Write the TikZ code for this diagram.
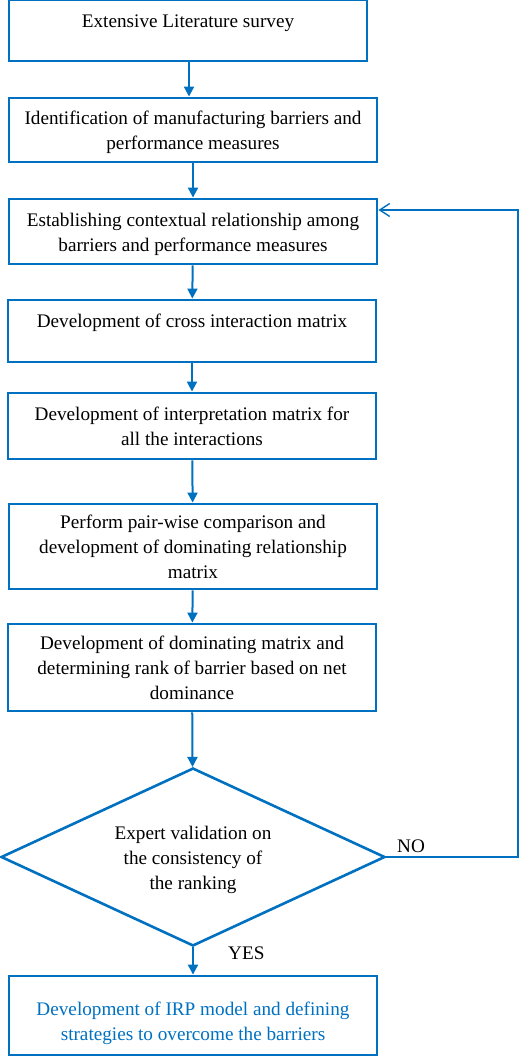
\documentclass[tikz,border=0pt]{standalone}
\usepackage{fontspec}
\setmainfont{Liberation Serif}
\usetikzlibrary{shapes.geometric,arrows.meta}
\definecolor{fblue}{HTML}{0070C0}
\newcommand\tdn[2]{\raisebox{0pt}[\dimexpr\height+#1\relax][\depth]{\begin{tabular}{@{}c@{}}#2\end{tabular}}}
\newcommand\tup[2]{\raisebox{0pt}[\height][\dimexpr\depth+#1\relax]{\begin{tabular}{@{}c@{}}#2\end{tabular}}}
\begin{document}
\begin{tikzpicture}[x=1pt,y=-1pt,
  box/.style={draw=fblue,line width=2.9pt,rectangle,minimum width=368pt,inner sep=0pt,align=center,
    font=\fontsize{19.2}{25}\selectfont},
  dec/.style={draw=fblue,line width=2.6pt,diamond,minimum width=384pt,minimum height=178pt,inner sep=0pt,
    shape aspect=2.157,align=center,font=\fontsize{19.2}{25}\selectfont},
  conn/.style={draw=fblue,line width=2pt,-{Triangle[length=10pt,width=10pt]}},
  back/.style={draw=fblue,line width=1.4pt,-{Straight Barb[length=10pt,width=13pt]}},
  lbl/.style={font=\fontsize{19.2}{25}\selectfont,inner sep=0pt}]
\useasboundingbox (0,0) rectangle (520,1057);
\node[box,minimum width=358pt,minimum height=61pt] (b1) at (188,30.5) {\tup{16pt}{Extensive Literature survey}};
\node[box,minimum height=64pt] (b2) at (193,130) {\tdn{4pt}{Identification of manufacturing barriers and\\performance measures}};
\node[box,minimum height=65pt] (b3) at (193,231.5) {\tdn{4pt}{Establishing contextual relationship among\\barriers and performance measures}};
\node[box,minimum height=62pt] (b4) at (192,331) {\tup{18pt}{Development of cross interaction matrix}};
\node[box,minimum height=66pt] (b5) at (192,426) {\tdn{4pt}{Development of interpretation matrix for\\all the interactions}};
\node[box,minimum height=85pt] (b6) at (193,546.5) {\tdn{4pt}{Perform pair-wise comparison and\\development of dominating relationship\\matrix}};
\node[box,minimum height=87pt] (b7) at (192,667.5) {\tdn{4pt}{Development of dominating matrix and\\determining rank of barrier based on net\\dominance}};
\node[dec] (d) at (193,857) {\tdn{4pt}{Expert validation on\\the consistency of\\the ranking}};
\node[box,minimum height=79pt,text=fblue] (b8) at (193,1015.5) {\tdn{14pt}{Development of IRP model and defining\\strategies to overcome the barriers}};
\node[lbl,anchor=west] (no) at (397,846) {NO};
\node[lbl,anchor=west] (yes) at (228,953) {YES};
\coordinate (fb) at (518,857);
\draw[conn] (b1.south -| 189,0) -- (b2.north -| 189,0);
\draw[conn] (b2) -- (b3);
\draw[conn] (b3) -- (b4);
\draw[conn] (b4) -- (b5);
\draw[conn] (b5) -- (b6);
\draw[conn] (b6) -- (b7);
\draw[conn] (b7) -- (d);
\draw[conn] (d) -- (b8);
\draw[back] (d.east) -- (fb) |- ([yshift=21.5pt]b3.east);
\end{tikzpicture}
\end{document}
